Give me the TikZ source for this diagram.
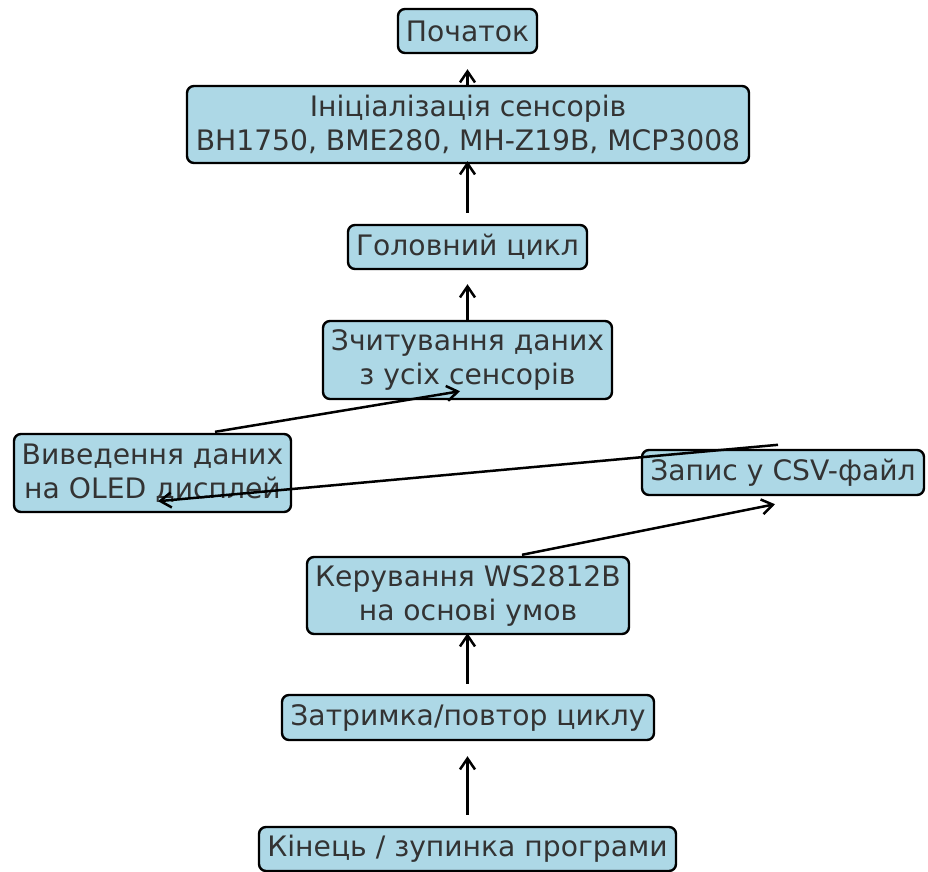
\documentclass[tikz,border=0pt]{standalone}
\usepackage{fontspec}
\setmainfont{DejaVu Sans}
\usetikzlibrary{arrows.meta,calc}
\definecolor{boxfill}{HTML}{ADD8E6}
\definecolor{boxtext}{HTML}{333333}
\tikzset{
  stepbox/.style={draw=black, fill=boxfill, line width=2.4pt, rounded corners=7pt,
    text=boxtext, align=center, inner sep=0pt,
    font=\fontsize{28.2}{34}\selectfont},
  flow/.style={line width=2.5pt, -{Straight Barb[length=11pt,width=15pt,line width=2.5pt]}}
}
\begin{document}
\begin{tikzpicture}[x=1pt,y=-1pt]
\useasboundingbox (0,0) rectangle (928,871);
% process steps
\node[stepbox, minimum width=139pt, minimum height=44pt] (start) at (467.5,31) {Початок};
\node[stepbox, minimum width=562pt, minimum height=77pt] (init) at (468,124.5) {Ініціалізація сенсорів\\BH1750, BME280, MH-Z19B, MCP3008};
\node[stepbox, minimum width=239pt, minimum height=44pt] (main) at (467.5,247) {Головний цикл};
\node[stepbox, minimum width=289pt, minimum height=78pt] (read) at (467.5,360) {Зчитування даних\\з усіх сенсорів};
\node[stepbox, minimum width=277pt, minimum height=78pt] (disp) at (152.5,473) {Виведення даних\\на OLED дисплей};
\node[stepbox, minimum width=282pt, minimum height=45pt] (csv) at (783,472.5) {Запис у CSV-файл};
\node[stepbox, minimum width=322pt, minimum height=77pt] (ctrl) at (468,595.5) {Керування WS2812B\\на основі умов};
\node[stepbox, minimum width=372pt, minimum height=45pt] (wait) at (468,717.5) {Затримка/повтор циклу};
\node[stepbox, minimum width=417pt, minimum height=44pt] (stop) at (467.5,849) {Кінець / зупинка програми};
% connectors
\draw[flow] ($(init.north)+(-0.5,0)$) -- ($(start.south)+(0,15)$);
\draw[flow] ($(main.north)+(0,-11)$) -- ($(init.south)+(-0.5,-3)$);
\draw[flow] (read.north) -- ($(main.south)+(0,14)$);
\draw[flow] ($(disp.north)+(62.5,-1)$) -- ($(read.south)+(-7.5,-9)$);
\draw[flow] ($(csv.north)+(-5,-4)$) -- ($(disp.south)+(5.5,-12)$);
\draw[flow] ($(ctrl.north)+(54,-1)$) -- ($(csv.south)+(-8,8)$);
\draw[flow] ($(wait.north)+(-0.5,-10)$) -- ($(ctrl.south)+(-0.5,-2)$);
\draw[flow] ($(stop.north)+(0,-11)$) -- ($(wait.south)+(-0.5,15)$);
\end{tikzpicture}
\end{document}
